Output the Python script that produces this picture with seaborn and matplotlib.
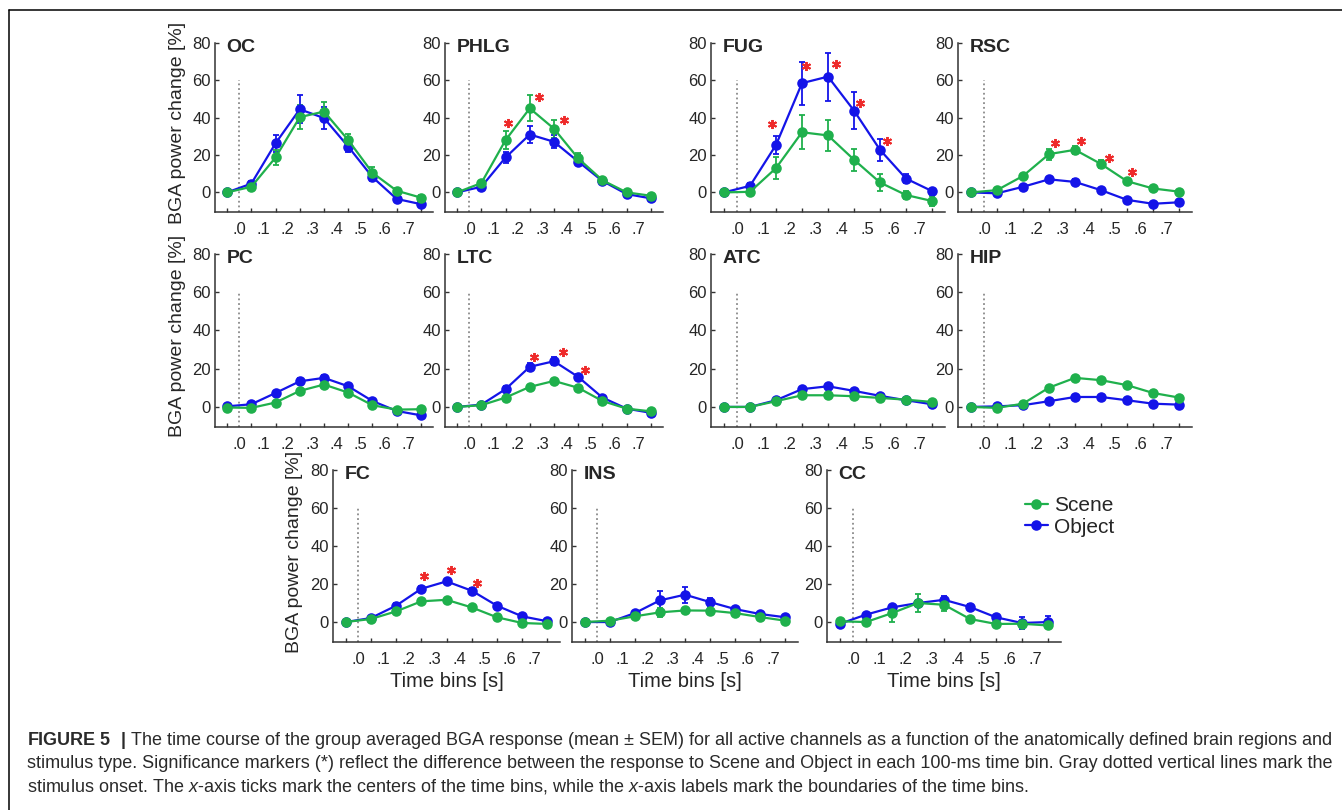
import numpy as np
import pandas as pd
import matplotlib
matplotlib.use("Agg")
import matplotlib.pyplot as plt
from matplotlib.lines import Line2D
import seaborn as sns

# ---------------- data ----------------
time_centers = [-0.05, 0.05, 0.15, 0.25, 0.35, 0.45, 0.55, 0.65, 0.75]
bound_ticks = [0.0, 0.1, 0.2, 0.3, 0.4, 0.5, 0.6, 0.7]
bound_labels = [".0", ".1", ".2", ".3", ".4", ".5", ".6", ".7"]
y_ticks = [0, 20, 40, 60, 80]

regions = ["OC", "PHLG", "FUG", "RSC", "PC", "LTC", "ATC", "HIP", "FC", "INS", "CC"]

oc_scene = [0, 3.0, 18.7, 40.3, 43.3, 28.0, 10.5, 0.9, -2.8]
oc_scene_sem = [0.8, 1.2, 3.8, 6.5, 5.0, 3.5, 3.0, 1.5, 1.5]
oc_object = [0, 4.7, 26.3, 44.5, 39.8, 24.5, 8.2, -3.5, -6.3]
oc_object_sem = [0.8, 1.5, 4.7, 7.5, 5.8, 3.0, 2.0, 1.5, 1.5]
oc_star_t, oc_star_y = [], []

phlg_scene = [0, 5.0, 28.0, 45.0, 34.1, 18.2, 6.5, 0.0, -1.8]
phlg_scene_sem = [0.8, 1.2, 4.7, 7.0, 4.8, 3.0, 1.5, 1.2, 1.2]
phlg_object = [0, 3.0, 18.7, 31.0, 27.1, 16.5, 6.1, -0.9, -3.2]
phlg_object_sem = [0.8, 1.0, 3.0, 4.7, 3.5, 2.0, 1.2, 1.0, 1.0]
phlg_star_t = [0.16, 0.29, 0.39]
phlg_star_y = [37.0, 51.0, 38.9]

fug_scene = [0, 0.3, 13.0, 32.2, 30.5, 17.5, 5.3, -1.4, -4.6]
fug_scene_sem = [0.8, 1.2, 5.7, 9.0, 8.4, 6.0, 4.3, 2.0, 2.5]
fug_object = [0, 3.5, 25.4, 58.5, 62.0, 43.8, 22.8, 7.4, 0.7]
fug_object_sem = [0.8, 1.5, 4.7, 11.5, 12.8, 10.0, 6.0, 2.5, 1.2]
fug_star_t = [0.135, 0.264, 0.38, 0.473, 0.576]
fug_star_y = [36.5, 67.8, 69.0, 48.0, 27.4]

rsc_scene = [0, 1.2, 8.8, 20.5, 22.8, 15.2, 6.0, 2.1, 0.4]
rsc_scene_sem = [0.6, 0.8, 1.2, 3.0, 2.0, 2.0, 1.2, 1.0, 0.8]
rsc_object = [0, -0.5, 3.0, 7.0, 5.6, 1.2, -4.0, -6.1, -5.3]
rsc_object_sem = [0.6, 0.8, 1.0, 1.5, 1.5, 1.0, 1.0, 1.0, 1.0]
rsc_star_t = [0.273, 0.372, 0.481, 0.568]
rsc_star_y = [26.3, 27.5, 18.2, 10.9]

pc_scene = [-0.3, -0.5, 2.3, 8.4, 11.7, 7.5, 0.9, -1.4, -1.2]
pc_scene_sem = [0.6, 0.8, 1.0, 1.2, 1.2, 1.0, 1.0, 1.0, 1.0]
pc_object = [0.3, 1.4, 7.3, 13.4, 15.2, 10.8, 3.1, -2.1, -4.4]
pc_object_sem = [0.6, 0.8, 1.2, 1.5, 1.5, 1.2, 1.0, 1.0, 1.0]
pc_star_t, pc_star_y = [], []

ltc_scene = [0, 0.9, 4.9, 10.5, 13.6, 10.0, 3.1, -0.9, -2.3]
ltc_scene_sem = [0.5, 0.8, 1.0, 1.2, 1.2, 1.0, 1.0, 0.8, 0.8]
ltc_object = [0, 1.2, 9.3, 21.0, 23.9, 15.7, 4.9, -0.9, -3.1]
ltc_object_sem = [0.5, 1.0, 1.5, 2.0, 2.0, 1.5, 1.2, 1.0, 1.0]
ltc_star_t = [0.269, 0.389, 0.477]
ltc_star_y = [26.2, 28.5, 19.2]

atc_scene = [0, 0, 3.0, 6.1, 6.1, 5.6, 4.7, 3.8, 2.6]
atc_scene_sem = [0.5, 0.6, 0.8, 1.0, 1.0, 1.0, 0.8, 0.8, 0.8]
atc_object = [0, 0, 3.5, 9.3, 10.8, 8.4, 5.8, 3.5, 1.4]
atc_object_sem = [0.5, 0.6, 0.8, 1.2, 1.2, 1.0, 0.8, 0.8, 0.8]
atc_star_t, atc_star_y = [], []

hip_scene = [0, -0.5, 1.7, 10.1, 15.2, 14.0, 11.4, 7.3, 4.9]
hip_scene_sem = [0.5, 0.6, 0.8, 1.0, 1.2, 1.2, 1.0, 1.0, 0.8]
hip_object = [0, 0.3, 0.9, 3.0, 5.2, 5.2, 3.5, 1.7, 1.2]
hip_object_sem = [0.5, 0.6, 0.8, 0.8, 0.8, 0.8, 0.8, 0.8, 0.8]
hip_star_t, hip_star_y = [], []

fc_scene = [0, 1.6, 5.6, 10.9, 11.7, 7.7, 2.5, -0.5, -1.0]
fc_scene_sem = [0.5, 0.8, 1.0, 1.2, 1.2, 1.0, 0.8, 0.8, 0.8]
fc_object = [0, 2.1, 8.6, 17.5, 21.4, 16.5, 8.6, 3.0, 0.4]
fc_object_sem = [0.5, 0.8, 1.2, 1.5, 1.5, 1.5, 1.2, 1.0, 0.8]
fc_star_t = [0.26, 0.367, 0.47]
fc_star_y = [24.0, 27.5, 20.8]

ins_scene = [0, 0.7, 3.0, 5.1, 6.1, 6.0, 4.7, 2.6, 0.7]
ins_scene_sem = [0.5, 0.8, 1.0, 2.5, 1.5, 1.2, 1.0, 1.0, 0.8]
ins_object = [0, 0, 4.7, 11.4, 14.4, 10.5, 6.8, 4.2, 2.5]
ins_object_sem = [0.5, 0.8, 1.2, 4.7, 4.3, 2.0, 1.2, 1.0, 1.0]
ins_star_t, ins_star_y = [], []

cc_scene = [0.4, 0, 4.7, 10.0, 9.1, 1.6, -1.0, -0.9, -1.8]
cc_scene_sem = [0.8, 1.0, 4.5, 4.5, 3.5, 1.2, 1.0, 1.0, 1.0]
cc_object = [-0.9, 3.9, 7.7, 10.0, 11.7, 7.9, 2.5, -0.5, 0]
cc_object_sem = [0.8, 1.0, 1.5, 1.5, 2.0, 1.5, 1.2, 3.0, 3.0]
cc_star_t, cc_star_y = [], []

panel_data = {
    "OC": (oc_scene, oc_scene_sem, oc_object, oc_object_sem, oc_star_t, oc_star_y),
    "PHLG": (phlg_scene, phlg_scene_sem, phlg_object, phlg_object_sem, phlg_star_t, phlg_star_y),
    "FUG": (fug_scene, fug_scene_sem, fug_object, fug_object_sem, fug_star_t, fug_star_y),
    "RSC": (rsc_scene, rsc_scene_sem, rsc_object, rsc_object_sem, rsc_star_t, rsc_star_y),
    "PC": (pc_scene, pc_scene_sem, pc_object, pc_object_sem, pc_star_t, pc_star_y),
    "LTC": (ltc_scene, ltc_scene_sem, ltc_object, ltc_object_sem, ltc_star_t, ltc_star_y),
    "ATC": (atc_scene, atc_scene_sem, atc_object, atc_object_sem, atc_star_t, atc_star_y),
    "HIP": (hip_scene, hip_scene_sem, hip_object, hip_object_sem, hip_star_t, hip_star_y),
    "FC": (fc_scene, fc_scene_sem, fc_object, fc_object_sem, fc_star_t, fc_star_y),
    "INS": (ins_scene, ins_scene_sem, ins_object, ins_object_sem, ins_star_t, ins_star_y),
    "CC": (cc_scene, cc_scene_sem, cc_object, cc_object_sem, cc_star_t, cc_star_y),
}

caption_lines = [
    r"$\mathbf{FIGURE\ 5\ \ |}$ The time course of the group averaged BGA response (mean ± SEM) for all active channels as a function of the anatomically defined brain regions and",
    r"stimulus type. Significance markers (*) reflect the difference between the response to Scene and Object in each 100-ms time bin. Gray dotted vertical lines mark the",
    r"stimulus onset. The $\mathit{x}$-axis ticks mark the centers of the time bins, while the $\mathit{x}$-axis labels mark the boundaries of the time bins.",
]

# ---------------- style ----------------
sns.set_theme(style="white")
plt.rcParams["font.family"] = ["Liberation Sans", "DejaVu Sans"]
plt.rcParams["mathtext.fontset"] = "custom"
plt.rcParams["mathtext.rm"] = "Liberation Sans"
plt.rcParams["mathtext.it"] = "Liberation Sans:italic"
plt.rcParams["mathtext.bf"] = "Liberation Sans:bold"

GREEN = "#1fb04c"
BLUE = "#1414e8"
RED = "#ee2a2a"
TXT = "#262626"

W, H = 1342, 810
fig = plt.figure(figsize=(W / 100, H / 100), dpi=100)
fig.patch.set_facecolor("white")

# panel rectangles in pixels: (left, right, top, bottom)
rects = {
    "OC": (215, 433, 43, 212), "PHLG": (445, 663, 43, 212),
    "FUG": (711, 945, 43, 212), "RSC": (958, 1192, 43, 212),
    "PC": (215, 433, 254, 427), "LTC": (445, 663, 254, 427),
    "ATC": (711, 945, 254, 427), "HIP": (958, 1192, 254, 427),
    "FC": (333, 560, 470, 642), "INS": (572, 798, 470, 642),
    "CC": (827, 1061, 470, 642),
}
ylabel_panels = {"OC": 186, "PC": 186, "FC": 303}
xlabel_panels = ["FC", "INS", "CC"]

for name in regions:
    l, r, t, b = rects[name]
    ax = fig.add_axes([l / W, 1 - b / H, (r - l) / W, (b - t) / H])
    ax.set_facecolor("none")
    scene, scene_sem, obj, obj_sem, st, sy = panel_data[name]

    ax.plot([0, 0], [-10.5, 60], color="#8a8a8a", ls=(0, (1, 1.6)), lw=1.3, zorder=1)

    for vals, sem, col in [(obj, obj_sem, BLUE), (scene, scene_sem, GREEN)]:
        ax.errorbar(time_centers, vals, yerr=sem, fmt="none", ecolor=col,
                    elinewidth=1.3, capsize=2.2, capthick=1.3, zorder=2)
        sns.lineplot(x=time_centers, y=vals, ax=ax, color=col, marker="o",
                     markersize=7.6, markeredgewidth=0, linewidth=1.6,
                     errorbar=None, legend=False, zorder=3)
    if st:
        ax.plot(st, sy, ls="none", marker=(6, 2, 0), color=RED, ms=6.5, mew=1.4, zorder=4)

    ax.set_xlim(-0.1, 0.8)
    ax.set_ylim(-10.5, 80)
    ax.set_xticks(bound_ticks)
    ax.set_xticklabels(bound_labels)
    ax.set_xticks(time_centers, minor=True)
    ax.set_yticks(y_ticks)
    ax.tick_params(axis="x", which="major", length=0, pad=7, labelsize=12, labelcolor=TXT)
    ax.tick_params(axis="x", which="minor", direction="in", length=3, width=1, color="#333333", bottom=True)
    ax.tick_params(axis="y", which="major", direction="in", length=3, width=1, pad=3,
                   labelsize=12, labelcolor=TXT, color="#333333", left=True)
    for s in ["top", "right"]:
        ax.spines[s].set_visible(False)
    for s in ["left", "bottom"]:
        ax.spines[s].set_color("#333333")
        ax.spines[s].set_linewidth(1.1)
    ax.set_xlabel("")
    ax.set_ylabel("")

    ax.annotate(name, xy=(0, 1), xycoords="axes fraction", xytext=(8.4, -6.3),
                textcoords="offset points", ha="left", va="baseline",
                fontsize=14, fontweight="bold", color=TXT)

    if name in ylabel_panels:
        ax.set_ylabel("BGA power change [%]", fontsize=14, color=TXT)
        ax.yaxis.set_label_coords((ylabel_panels[name] - l) / (r - l), 0.525)
    if name in xlabel_panels:
        ax.set_xlabel("Time bins [s]", fontsize=14.5, color=TXT)
        ax.xaxis.set_label_coords(0.5, -(672 - b) / (b - t))

# legend
handles = [Line2D([], [], color=GREEN, marker="o", markersize=7.6, markeredgewidth=0, lw=1.6),
           Line2D([], [], color=BLUE, marker="o", markersize=7.6, markeredgewidth=0, lw=1.6)]
fig.legend(handles, ["Scene", "Object"], loc="upper left",
           bbox_to_anchor=(1025 / W, 1 - 496 / H), bbox_transform=fig.transFigure,
           frameon=False, fontsize=15, handlelength=1.1, handletextpad=0.3,
           labelspacing=0.13, borderpad=0, borderaxespad=0, labelcolor=TXT)

# frame lines
fig.add_artist(Line2D([9 / W, 9 / W], [0, 1 - 10 / H], transform=fig.transFigure, color="black", lw=1.1))
fig.add_artist(Line2D([9 / W, 1], [1 - 10 / H, 1 - 10 / H], transform=fig.transFigure, color="black", lw=1.1))

# caption
renderer = fig.canvas.get_renderer()
baselines = [745, 768.5, 792]
cap_texts = []
for line, yb in zip(caption_lines, baselines):
    cap_texts.append(fig.text(27 / W, 1 - yb / H, line, fontsize=12, color="#2a2a2a",
                              ha="left", va="baseline"))
w1 = cap_texts[0].get_window_extent(renderer).width
size = 12 * 1308 / w1
for tx in cap_texts:
    tx.set_fontsize(size)

fig.savefig("out.png", dpi=100, facecolor="white")
